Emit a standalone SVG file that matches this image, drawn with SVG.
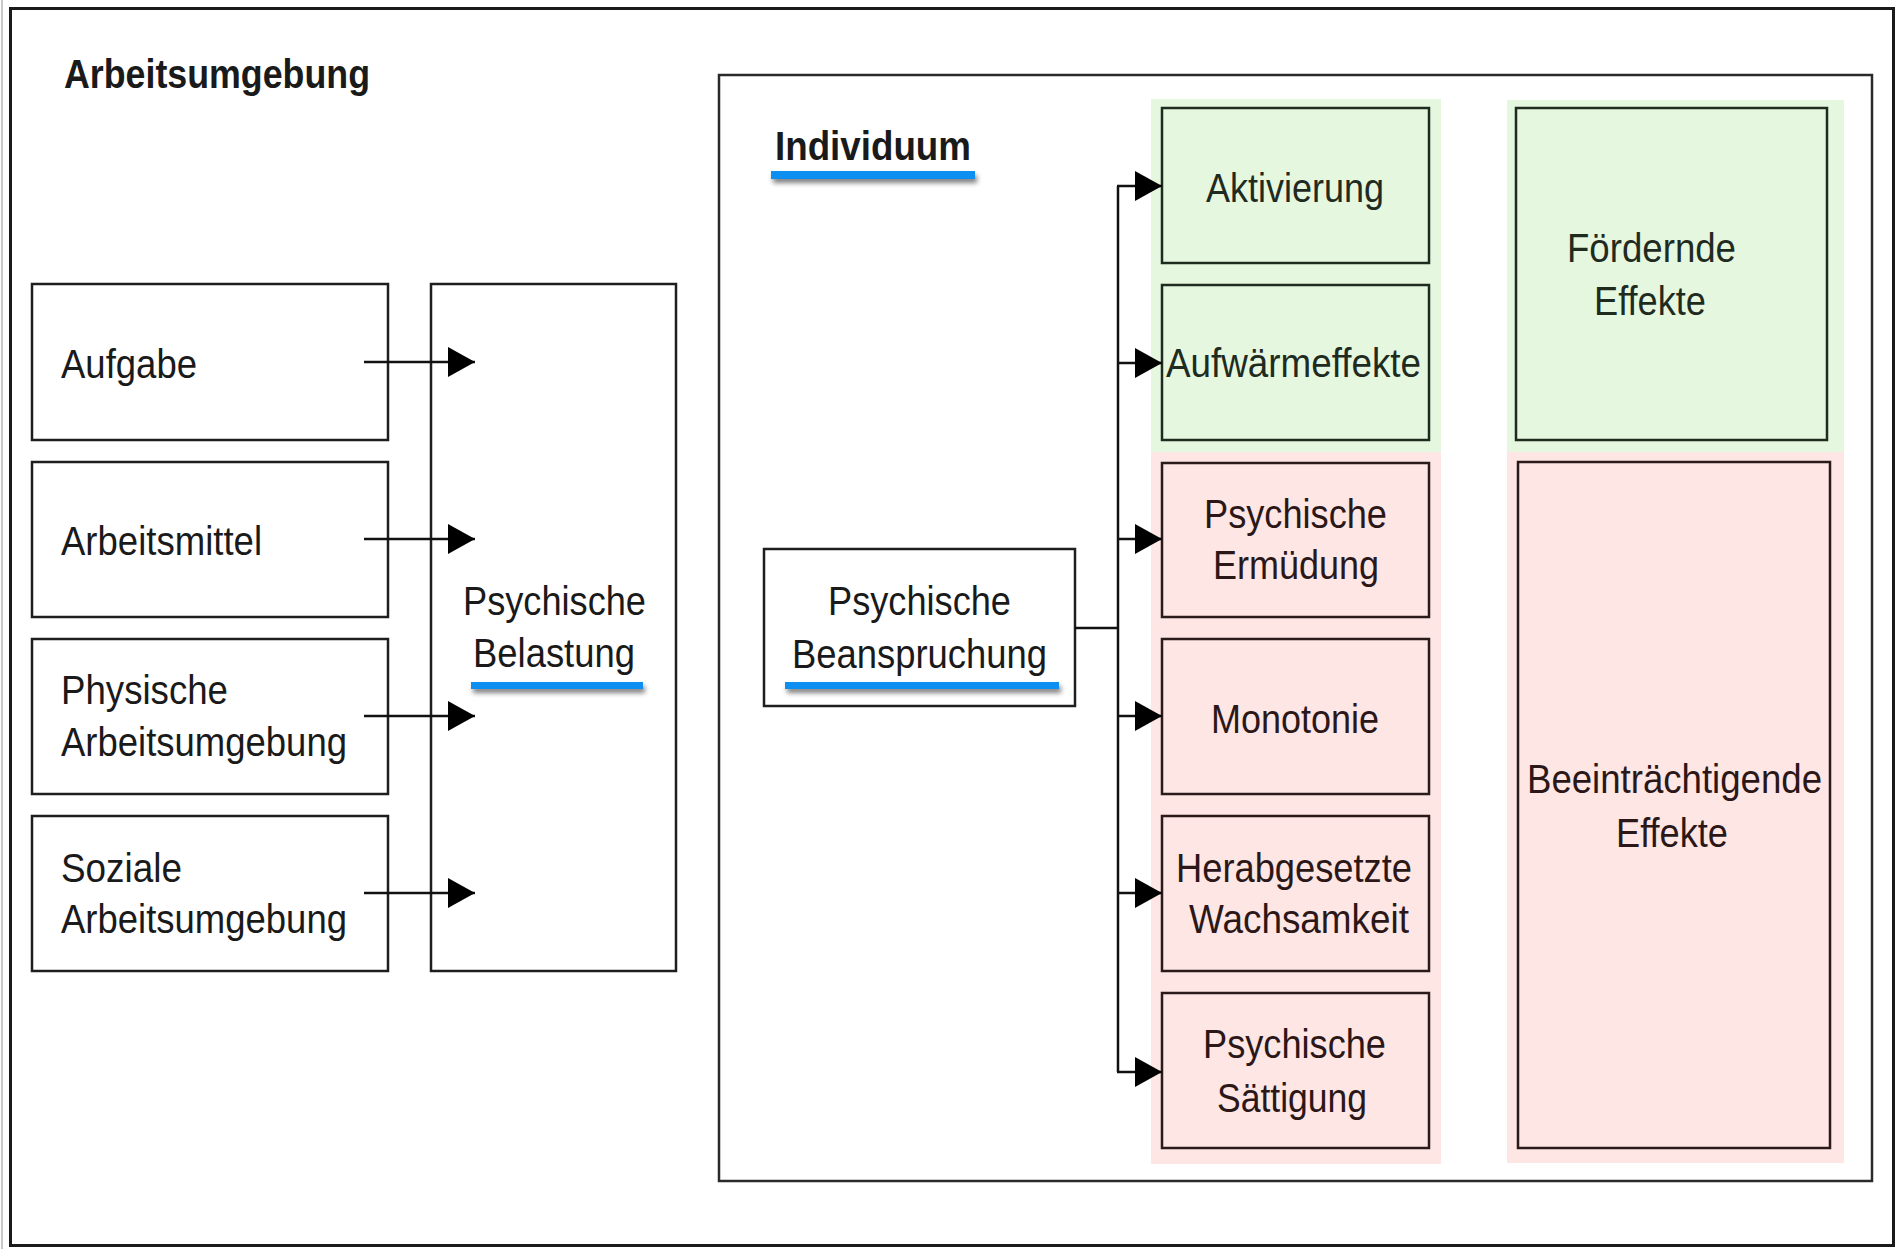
<svg xmlns="http://www.w3.org/2000/svg" width="1901" height="1249" viewBox="0 0 1901 1249">
<style>
.t{font-family:"Liberation Sans",Arial,sans-serif;font-size:40px;fill:#1a1a1a}
.b{font-weight:bold}
.box{fill:#fff;stroke:#1e1e1e;stroke-width:2.5}
.gbox{fill:#e6f7e0;stroke:#1f2b1f;stroke-width:2.5}
.pbox{fill:#fde6e3;stroke:#2b1a1a;stroke-width:2.5}
.gt{fill:#1f2b1f}
.pt{fill:#2b1717}
.conn{fill:none;stroke:#111;stroke-width:2.5}
.ul{fill:#0a8ff2}
</style>
<defs>
<marker id="ah" viewBox="0 0 27 30" markerWidth="27" markerHeight="30" refX="27" refY="15" markerUnits="userSpaceOnUse" orient="auto">
<path d="M0,0 L27,15 L0,30 z" fill="#000"/>
</marker>
<filter id="sh" x="-10%" y="-100%" width="120%" height="400%">
<feGaussianBlur in="SourceAlpha" stdDeviation="2.5"/>
<feOffset dx="2" dy="4" result="b"/>
<feComponentTransfer><feFuncA type="linear" slope="0.5"/></feComponentTransfer>
<feMerge><feMergeNode/><feMergeNode in="SourceGraphic"/></feMerge>
</filter>
</defs>
<rect width="1901" height="1249" fill="#fff"/>
<line x1="2" y1="0" x2="2" y2="1249" stroke="#c8c8c8" stroke-width="2"/>
<g id="arbeitsumgebung">
<rect x="10.5" y="8.5" width="1883" height="1237" fill="none" stroke="#1a1a1a" stroke-width="3"/>
<text class="t b" x="64" y="88" textLength="306" lengthAdjust="spacingAndGlyphs">Arbeitsumgebung</text>
</g>
<g id="individuum">
<rect x="719" y="75" width="1153" height="1106" fill="none" stroke="#2a2a2a" stroke-width="2.5"/>
<text class="t b" x="775" y="160" textLength="196" lengthAdjust="spacingAndGlyphs">Individuum</text>
<rect class="ul" x="771" y="171" width="204" height="8" filter="url(#sh)"/>
</g>
<g id="backgrounds">
<rect x="1151" y="99" width="290" height="353" fill="#e6f7e0"/>
<rect x="1151" y="452" width="290" height="712" fill="#fde6e3"/>
<rect x="1507" y="100" width="337" height="352" fill="#e6f7e0"/>
<rect x="1507" y="452" width="337" height="711" fill="#fde6e3"/>
</g>
<g id="aufgabe">
<rect class="box" x="32" y="284" width="356" height="156"/>
<text class="t" x="61" y="378" textLength="136" lengthAdjust="spacingAndGlyphs">Aufgabe</text>
</g>
<g id="arbeitsmittel">
<rect class="box" x="32" y="462" width="356" height="155"/>
<text class="t" x="61" y="555" textLength="201" lengthAdjust="spacingAndGlyphs">Arbeitsmittel</text>
</g>
<g id="physische-arbeitsumgebung">
<rect class="box" x="32" y="639" width="356" height="155"/>
<text class="t" x="61" y="704" textLength="167" lengthAdjust="spacingAndGlyphs">Physische</text>
<text class="t" x="61" y="756" textLength="286" lengthAdjust="spacingAndGlyphs">Arbeitsumgebung</text>
</g>
<g id="soziale-arbeitsumgebung">
<rect class="box" x="32" y="816" width="356" height="155"/>
<text class="t" x="61" y="882" textLength="121" lengthAdjust="spacingAndGlyphs">Soziale</text>
<text class="t" x="61" y="933" textLength="286" lengthAdjust="spacingAndGlyphs">Arbeitsumgebung</text>
</g>
<g id="psychische-belastung">
<rect x="431" y="284" width="245" height="687" fill="none" stroke="#1e1e1e" stroke-width="2.5"/>
<text class="t" x="463" y="615" textLength="183" lengthAdjust="spacingAndGlyphs">Psychische</text>
<text class="t" x="473" y="667" textLength="162" lengthAdjust="spacingAndGlyphs">Belastung</text>
<rect class="ul" x="471" y="682" width="172" height="7" filter="url(#sh)"/>
</g>
<g id="psychische-beanspruchung">
<rect class="box" x="764" y="549" width="311" height="157"/>
<text class="t" x="828" y="615" textLength="183" lengthAdjust="spacingAndGlyphs">Psychische</text>
<text class="t" x="792" y="668" textLength="255" lengthAdjust="spacingAndGlyphs">Beanspruchung</text>
<rect class="ul" x="785" y="682" width="274" height="7" filter="url(#sh)"/>
</g>
<g id="aktivierung">
<rect class="gbox" x="1162" y="108" width="267" height="155"/>
<text class="t gt" x="1206" y="202" textLength="178" lengthAdjust="spacingAndGlyphs">Aktivierung</text>
</g>
<g id="aufwaermeffekte">
<rect class="gbox" x="1162" y="285" width="267" height="155"/>
<text class="t gt" x="1166" y="377" textLength="255" lengthAdjust="spacingAndGlyphs">Aufwärmeffekte</text>
</g>
<g id="psychische-ermuedung">
<rect class="pbox" x="1162" y="463" width="267" height="154"/>
<text class="t pt" x="1204" y="528" textLength="183" lengthAdjust="spacingAndGlyphs">Psychische</text>
<text class="t pt" x="1213" y="579" textLength="166" lengthAdjust="spacingAndGlyphs">Ermüdung</text>
</g>
<g id="monotonie">
<rect class="pbox" x="1162" y="639" width="267" height="155"/>
<text class="t pt" x="1211" y="733" textLength="168" lengthAdjust="spacingAndGlyphs">Monotonie</text>
</g>
<g id="herabgesetzte-wachsamkeit">
<rect class="pbox" x="1162" y="816" width="267" height="155"/>
<text class="t pt" x="1176" y="882" textLength="236" lengthAdjust="spacingAndGlyphs">Herabgesetzte</text>
<text class="t pt" x="1189" y="933" textLength="220" lengthAdjust="spacingAndGlyphs">Wachsamkeit</text>
</g>
<g id="psychische-saettigung">
<rect class="pbox" x="1162" y="993" width="267" height="155"/>
<text class="t pt" x="1203" y="1058" textLength="183" lengthAdjust="spacingAndGlyphs">Psychische</text>
<text class="t pt" x="1217" y="1112" textLength="150" lengthAdjust="spacingAndGlyphs">Sättigung</text>
</g>
<g id="foerdernde-effekte">
<rect class="gbox" x="1516" y="108" width="311" height="332"/>
<text class="t gt" x="1567" y="262" textLength="169" lengthAdjust="spacingAndGlyphs">Fördernde</text>
<text class="t gt" x="1594" y="315" textLength="112" lengthAdjust="spacingAndGlyphs">Effekte</text>
</g>
<g id="beeintraechtigende-effekte">
<rect class="pbox" x="1518" y="462" width="312" height="686"/>
<text class="t pt" x="1527" y="793" textLength="295" lengthAdjust="spacingAndGlyphs">Beeinträchtigende</text>
<text class="t pt" x="1616" y="847" textLength="112" lengthAdjust="spacingAndGlyphs">Effekte</text>
</g>
<g id="connectors">
<line class="conn" x1="364" y1="362" x2="475" y2="362" marker-end="url(#ah)"/>
<line class="conn" x1="364" y1="539" x2="475" y2="539" marker-end="url(#ah)"/>
<line class="conn" x1="364" y1="716" x2="475" y2="716" marker-end="url(#ah)"/>
<line class="conn" x1="364" y1="893" x2="475" y2="893" marker-end="url(#ah)"/>
<polyline class="conn" points="1075,628 1118,628"/>
<polyline class="conn" points="1118,186 1118,1072"/>
<line class="conn" x1="1117" y1="186" x2="1162" y2="186" marker-end="url(#ah)"/>
<line class="conn" x1="1117" y1="363" x2="1162" y2="363" marker-end="url(#ah)"/>
<line class="conn" x1="1117" y1="539" x2="1162" y2="539" marker-end="url(#ah)"/>
<line class="conn" x1="1117" y1="716" x2="1162" y2="716" marker-end="url(#ah)"/>
<line class="conn" x1="1117" y1="893" x2="1162" y2="893" marker-end="url(#ah)"/>
<line class="conn" x1="1117" y1="1072" x2="1162" y2="1072" marker-end="url(#ah)"/>
</g>
</svg>
